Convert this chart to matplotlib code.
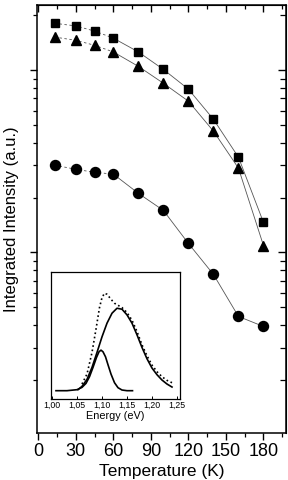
import matplotlib
matplotlib.use("Agg")
import matplotlib.pyplot as plt
from matplotlib.ticker import MultipleLocator, LogLocator, NullFormatter, FixedLocator, FixedFormatter

plt.rcParams['font.family'] = ['Liberation Sans', 'DejaVu Sans']

# main data: integrated intensity vs temperature
temp = [13, 30, 45, 60, 80, 100, 120, 140, 160, 180]
squares = [18.1, 17.5, 16.4, 15.0, 12.6, 10.1, 7.87, 5.38, 3.33, 1.46]
triangles = [15.2, 14.6, 13.7, 12.6, 10.5, 8.48, 6.76, 4.63, 2.90, 1.09]
circles = [3.01, 2.86, 2.75, 2.69, 2.11, 1.70, 1.12, 0.757, 0.445, 0.392]
n_dashed = 4  # first segments drawn dashed

# inset: spectra vs energy (eV), intensity in a.u.
e_small = [1.008, 1.03, 1.05, 1.06, 1.068, 1.075, 1.082, 1.089, 1.094, 1.098,
           1.102, 1.107, 1.112, 1.118, 1.125, 1.132, 1.14, 1.15, 1.161]
i_small = [0.0, 0.0, 0.03, 0.10, 0.22, 0.42, 0.70, 1.00, 1.17, 1.22,
           1.17, 1.02, 0.78, 0.50, 0.24, 0.09, 0.02, 0.0, 0.0]
e_big = [1.052, 1.06, 1.07, 1.08, 1.09, 1.10, 1.11, 1.12, 1.13, 1.14, 1.15,
         1.16, 1.17, 1.18, 1.19, 1.20, 1.21, 1.22, 1.23, 1.24]
i_big = [0.03, 0.13, 0.34, 0.70, 1.15, 1.62, 2.03, 2.33, 2.48, 2.45, 2.28,
         2.03, 1.68, 1.30, 0.96, 0.68, 0.48, 0.32, 0.20, 0.11]
e_exp = [1.06, 1.07, 1.08, 1.088, 1.095, 1.10, 1.105, 1.11, 1.118, 1.125, 1.133,
         1.14, 1.15, 1.16, 1.17, 1.18, 1.19, 1.20, 1.21, 1.22, 1.23, 1.24]
i_exp = [0.20, 0.50, 1.15, 1.85, 2.50, 2.80, 2.93, 2.90, 2.75, 2.63, 2.56,
         2.50, 2.35, 2.12, 1.78, 1.38, 1.05, 0.77, 0.57, 0.42, 0.31, 0.24]
inset_ticks = [1.00, 1.05, 1.10, 1.15, 1.20, 1.25]
inset_labels = ['1,00', '1,05', '1,10', '1,15', '1,20', '1,25']

fig = plt.figure(figsize=(2.88, 4.8), dpi=100)
ax = fig.add_axes([37/288, 47/480, 249/288, 428/480])

line_kw = dict(color='#555555', lw=0.6)
for ys, mk, ms in [(squares, 's', 6.3), (triangles, '^', 7.4), (circles, 'o', 7.2)]:
    ax.plot(temp[:n_dashed], ys[:n_dashed], ls=(0, (3, 3)), **line_kw)
    ax.plot(temp[n_dashed - 1:], ys[n_dashed - 1:], ls='-', **line_kw)
    ax.plot(temp, ys, ls='none', marker=mk, ms=ms, color='black')

ax.set_yscale('log')
ax.set_xlim(-1, 198)
ax.set_ylim(0.102, 22.8)
ax.xaxis.set_major_locator(MultipleLocator(30))
ax.xaxis.set_minor_locator(MultipleLocator(15))
ax.yaxis.set_major_locator(LogLocator(base=10))
ax.yaxis.set_minor_locator(LogLocator(base=10, subs=range(2, 10)))
ax.yaxis.set_major_formatter(NullFormatter())
ax.yaxis.set_minor_formatter(NullFormatter())
ax.tick_params(which='major', direction='out', length=5, width=1, labelsize=13, pad=2)
ax.tick_params(which='minor', direction='out', length=3, width=0.9)
for s in ax.spines.values():
    s.set_linewidth(1.1)

top = ax.secondary_xaxis('top')
top.xaxis.set_major_locator(MultipleLocator(30))
top.xaxis.set_minor_locator(MultipleLocator(15))
top.tick_params(which='major', direction='in', length=5, width=1, labeltop=False)
top.tick_params(which='minor', direction='in', length=3, width=0.9)
right = ax.secondary_yaxis('right')
right.yaxis.set_major_locator(LogLocator(base=10))
right.yaxis.set_minor_locator(LogLocator(base=10, subs=range(2, 10)))
right.yaxis.set_major_formatter(NullFormatter())
right.yaxis.set_minor_formatter(NullFormatter())
right.tick_params(which='major', direction='in', length=6, width=1, labelright=False)
right.tick_params(which='minor', direction='in', length=4, width=0.9)

ax.set_xlabel('Temperature (K)', fontsize=12.5, labelpad=3)
ax.set_ylabel('Integrated Intensity (a.u.)', fontsize=12, labelpad=6)

# inset
ins = fig.add_axes([51/288, 81/480, 129/288, 127/480])
ins.plot(e_exp, i_exp, color='black', lw=1.2, ls=(0, (1, 1.6)))
ins.plot(e_big, i_big, color='black', lw=1.2)
ins.plot(e_small, i_small, color='black', lw=1.2)
ins.set_xlim(0.998, 1.256)
ins.set_ylim(-0.25, 3.57)
ins.xaxis.set_major_locator(FixedLocator(inset_ticks))
ins.xaxis.set_major_formatter(FixedFormatter(inset_labels))
ins.set_yticks([])
ins.tick_params(axis='x', direction='in', length=2, width=0.7, labelsize=6.3, pad=1.5)
for s in ins.spines.values():
    s.set_linewidth(0.9)
ins.set_xlabel('Energy (eV)', fontsize=7.8, labelpad=0.5)

fig.savefig('out.png', dpi=100)
